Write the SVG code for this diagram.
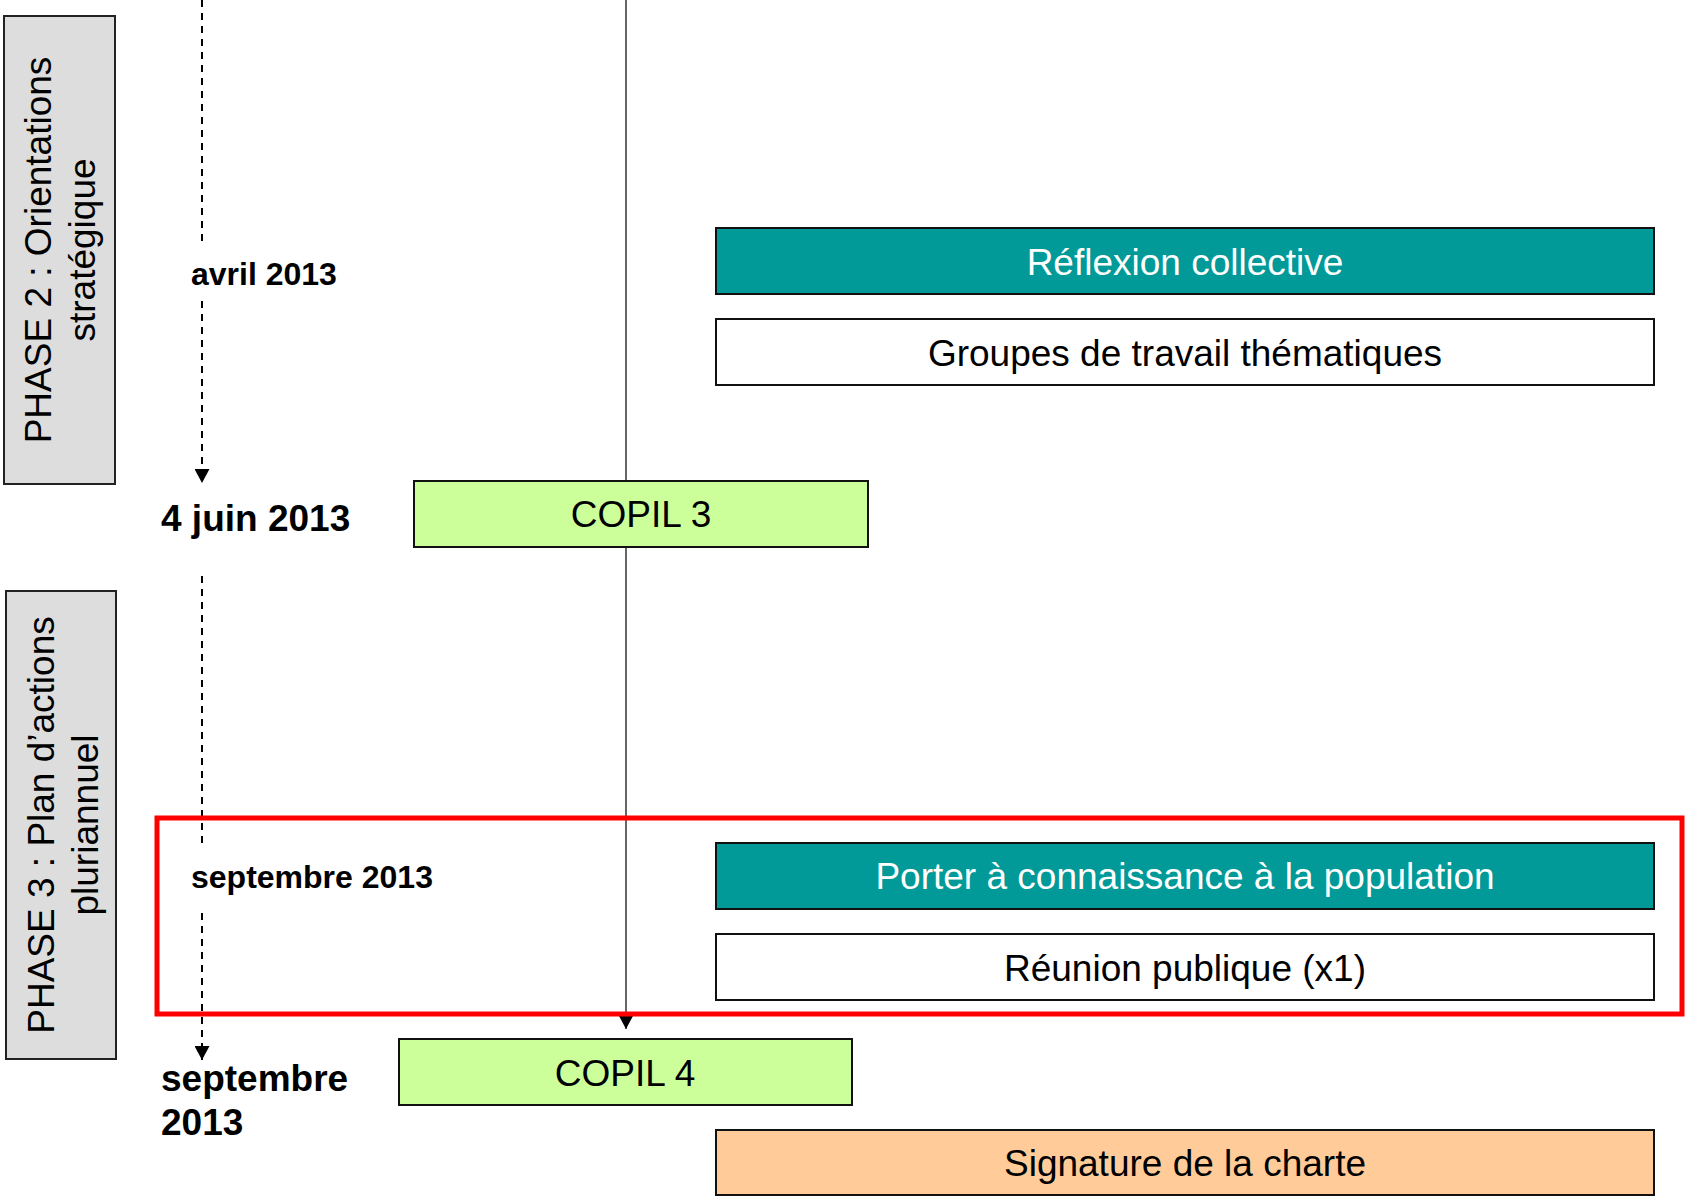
<svg xmlns="http://www.w3.org/2000/svg" width="1686" height="1197" viewBox="0 0 1686 1197">
<style>
.box{stroke:#111;stroke-width:2}
.phase{fill:#DDDDDD;stroke:#222;stroke-width:2}
.t{font-family:"Liberation Sans",Arial,sans-serif;font-size:37px;text-anchor:middle;fill:#000}
.w{fill:#fff}
.ph{font-family:"Liberation Sans",Arial,sans-serif;font-size:37px;text-anchor:middle;fill:#000}
.d{font-family:"Liberation Sans",Arial,sans-serif;font-weight:bold;fill:#000}
.dash{stroke:#000;stroke-width:2;stroke-dasharray:7 6;fill:none}
.solid{stroke:#333;stroke-width:1.5;fill:none}
</style>
<defs>
<marker id="arr" markerWidth="15" markerHeight="14" refX="7.5" refY="14" orient="0" markerUnits="userSpaceOnUse">
<path d="M0,0 L15,0 L7.5,14 Z" fill="#000"/>
</marker>
</defs>
<rect width="1686" height="1197" fill="#fff"/>
<g id="connectors">
<line class="solid" x1="626" y1="0" x2="626" y2="1029" marker-end="url(#arr)"/>
<line class="dash" x1="202" y1="0" x2="202" y2="243"/>
<line class="dash" x1="202" y1="301" x2="202" y2="483" marker-end="url(#arr)"/>
<line class="dash" x1="202" y1="576" x2="202" y2="847"/>
<line class="dash" x1="202" y1="913" x2="202" y2="1060" marker-end="url(#arr)"/>
</g>
<g id="phase2">
<rect class="phase" x="4" y="16" width="111" height="468"/>
<text class="ph" transform="translate(51,250) rotate(-90)">PHASE 2 : Orientations</text>
<text class="ph" transform="translate(95,250) rotate(-90)">stratégique</text>
</g>
<g id="phase3">
<rect class="phase" x="6" y="591" width="110" height="468"/>
<text class="ph" transform="translate(54,825) rotate(-90)">PHASE 3 : Plan d’actions</text>
<text class="ph" transform="translate(98,825) rotate(-90)">pluriannuel</text>
</g>
<g id="date-avril">
<text class="d" x="191" y="285" font-size="32">avril 2013</text>
</g>
<g id="date-juin">
<text class="d" x="161" y="531" font-size="37">4 juin 2013</text>
</g>
<g id="date-sept1">
<text class="d" x="191" y="888" font-size="32">septembre 2013</text>
</g>
<g id="date-sept2">
<text class="d" x="161" y="1091" font-size="37">septembre</text>
<text class="d" x="161" y="1135" font-size="37">2013</text>
</g>
<g id="reflexion">
<rect class="box" x="716" y="228" width="938" height="66" fill="#019A98"/>
<text class="t w" x="1185" y="275">Réflexion collective</text>
</g>
<g id="groupes">
<rect class="box" x="716" y="319" width="938" height="66" fill="#fff"/>
<text class="t" x="1185" y="366">Groupes de travail thématiques</text>
</g>
<g id="copil3">
<rect class="box" x="414" y="481" width="454" height="66" fill="#CCFF99"/>
<text class="t" x="641" y="527">COPIL 3</text>
</g>
<g id="highlight">
<rect x="157" y="818" width="1525" height="196" fill="none" stroke="#FF0000" stroke-width="5"/>
</g>
<g id="porter">
<rect class="box" x="716" y="843" width="938" height="66" fill="#019A98"/>
<text class="t w" x="1185" y="889">Porter à connaissance à la population</text>
</g>
<g id="reunion">
<rect class="box" x="716" y="934" width="938" height="66" fill="#fff"/>
<text class="t" x="1185" y="981">Réunion publique (x1)</text>
</g>
<g id="copil4">
<rect class="box" x="399" y="1039" width="453" height="66" fill="#CCFF99"/>
<text class="t" x="625" y="1086">COPIL 4</text>
</g>
<g id="signature">
<rect class="box" x="716" y="1130" width="938" height="65" fill="#FFCC99"/>
<text class="t" x="1185" y="1176">Signature de la charte</text>
</g>
</svg>
